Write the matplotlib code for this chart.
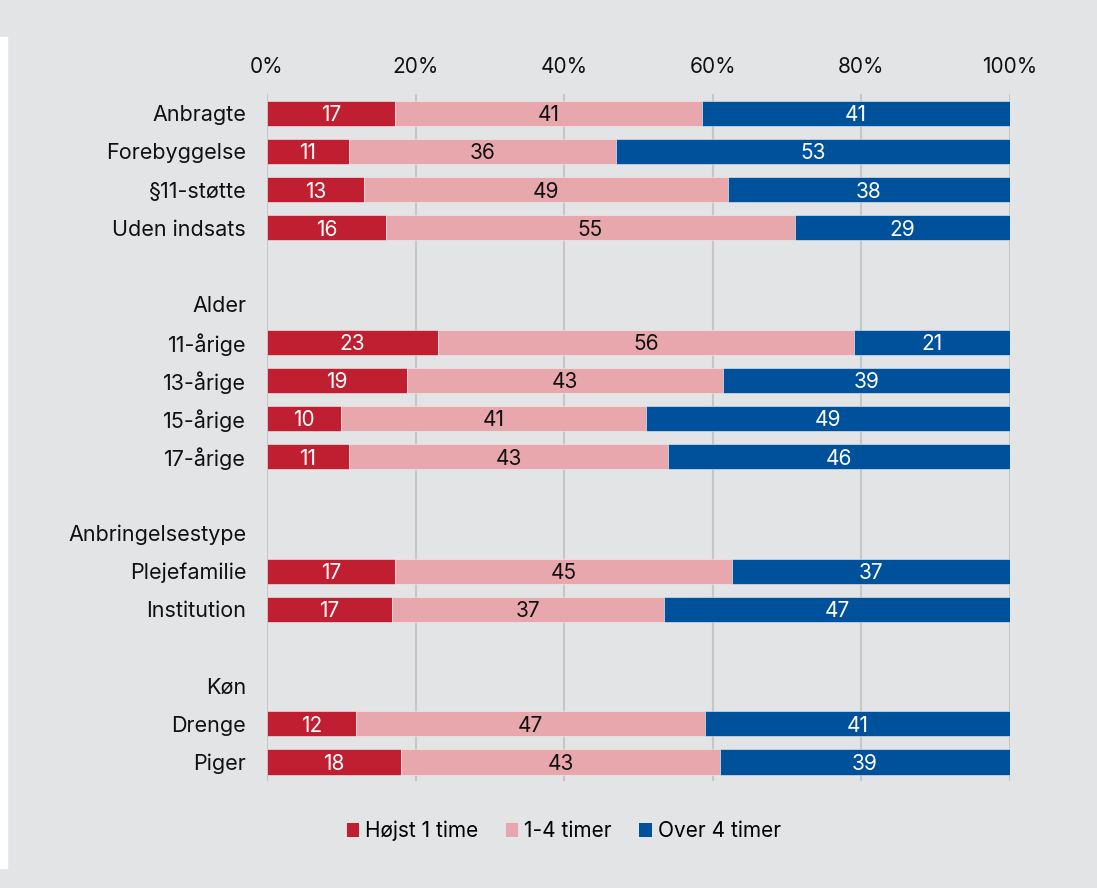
import numpy as np
import matplotlib.pyplot as plt
from matplotlib.patches import Patch, Rectangle

plt.rcParams['font.family'] = ['Inter', 'DejaVu Sans']

# rows top to bottom; "" = spacer row, header rows have no bars
labels = ["Anbragte", "Forebyggelse", "§11-støtte", "Uden indsats", "",
          "Alder", "11-årige", "13-årige", "15-årige", "17-årige", "",
          "Anbringelsestype", "Plejefamilie", "Institution", "",
          "Køn", "Drenge", "Piger"]
hojst = [17, 11, 13, 16, None, None, 23, 19, 10, 11, None, None, 17, 17, None, None, 12, 18]
mellem = [41, 36, 49, 55, None, None, 56, 43, 41, 43, None, None, 45, 37, None, None, 47, 43]
over = [41, 53, 38, 29, None, None, 21, 39, 49, 46, None, None, 37, 47, None, None, 41, 39]

series = ["Højst 1 time", "1-4 timer", "Over 4 timer"]
colors = ["#c01f31", "#e8a7ac", "#00519c"]
text_colors = ["white", "#111111", "white"]
bg = "#e3e4e6"

fig = plt.figure(figsize=(10.97, 8.88), dpi=100, facecolor=bg)
# thin white strip on the left edge, as in the source image
fig.patches.append(Rectangle((0, 20 / 888), 7 / 1097, (868 - 37) / 888,
                             transform=fig.transFigure, color="white", zorder=0))
ax = fig.add_axes([0.2434, 0.1205, 0.9207 - 0.2434, 0.894 - 0.1205])
ax.set_facecolor(bg)

y = np.arange(len(labels))
for i in range(len(labels)):
    if hojst[i] is None:
        continue
    vals = [hojst[i], mellem[i], over[i]]
    tot = sum(vals)
    left = 0
    for v, c, tc in zip(vals, colors, text_colors):
        w = v / tot * 100
        ax.barh(y[i], w, left=left, height=0.66, color=c,
                edgecolor="#f0f0f0", linewidth=0.4, zorder=3)
        ax.text(left + w / 2, y[i], str(v), ha="center", va="center_baseline",
                color=tc, fontsize=15, zorder=4)
        left += w

ax.set_xlim(0, 100)
ax.set_ylim(len(labels) - 0.5, -0.5)
ax.set_xticks(np.arange(0, 101, 20))
ax.set_xticklabels([f"{t}%" for t in range(0, 101, 20)])
ax.xaxis.tick_top()
ax.set_yticks(y)
ax.set_yticklabels(labels)
ax.tick_params(axis="both", length=0, colors="#111111")
ax.tick_params(axis="x", pad=12, labelsize=15)
ax.tick_params(axis="y", pad=15, labelsize=15.5)
ax.grid(axis="x", color="#c6c6c6", linewidth=1.5, zorder=0)
for s in ax.spines.values():
    s.set_visible(False)

handles = [Patch(facecolor=c, edgecolor="none") for c in colors]
fig.legend(handles, series, loc="center", bbox_to_anchor=(0.514, 0.064), ncol=3,
           frameon=False, fontsize=15, handlelength=0.6, handleheight=0.6,
           handletextpad=0.3, columnspacing=1.3)

fig.savefig("out.png", dpi=100, facecolor=bg)
